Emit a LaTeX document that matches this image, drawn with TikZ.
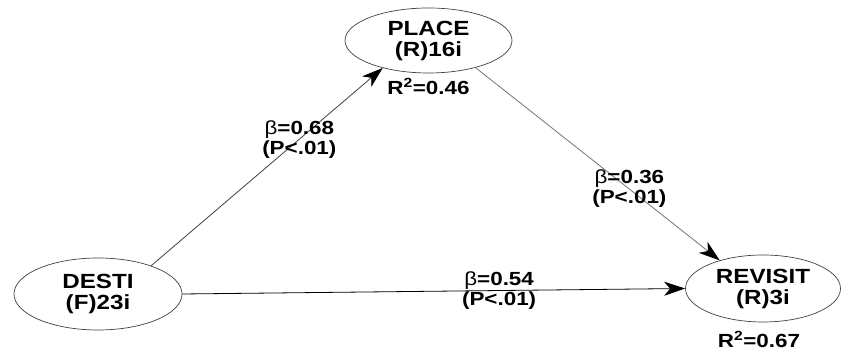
\documentclass[tikz,border=0pt]{standalone}
\usepackage{fontspec}
\newfontfamily\pathfont[FakeStretch=1.18]{Liberation Sans}
\usetikzlibrary{arrows.meta,positioning,shapes.geometric}
\usepackage{xcolor}

\begin{document}
\begin{tikzpicture}[x=1pt,y=1pt,>={Stealth[length=21pt,width=14pt,inset=6pt,color=black]},
  latent/.style={draw=black!75, line width=0.7pt, ellipse, inner sep=0pt, align=center,
    font=\pathfont\bfseries\fontsize{20.5}{21}\selectfont},
  coef/.style={align=center, inner sep=0pt, text=black, font=\pathfont\bfseries\fontsize{19}{20}\selectfont},
  rsq/.style={inner sep=0pt, font=\pathfont\bfseries\fontsize{19}{18}\selectfont}]
  \useasboundingbox (0,0) rectangle (844,352);
  % Constructs
  \node (place)   [latent, minimum width=167pt, minimum height=65pt] at (428.5,311.5) {PLACE\\(R)16i};
  \node (desti)   [latent, minimum width=168pt, minimum height=72pt] at (98,58) {DESTI\\(F)23i};
  \node (revisit) [latent, minimum width=155pt, minimum height=67pt] at (763,63.5) {REVISIT\\(R)3i};
  \node (rplace)   [rsq, below=5pt of place] {R\textsuperscript{2}=0.46};
  \node (rrevisit) [rsq, below=9pt of revisit, xshift=-4pt] {R\textsuperscript{2}=0.67};

  % Paths
  \draw[->, black!75, line width=0.8pt] (desti.28) -- node[coef, pos=0.64] {{\mdseries β}=0.68\\(P<.01)} (place.211);
  \draw[->, black!55, line width=0.8pt] (place.330) -- node[coef, pos=0.63] {{\mdseries β}=0.36\\(P<.01)} (revisit.147);
  \draw[->, black, line width=0.8pt] (desti.east) -- node[coef, pos=0.63] {{\mdseries β}=0.54\\(P<.01)} (revisit.west);
\end{tikzpicture}
\end{document}
